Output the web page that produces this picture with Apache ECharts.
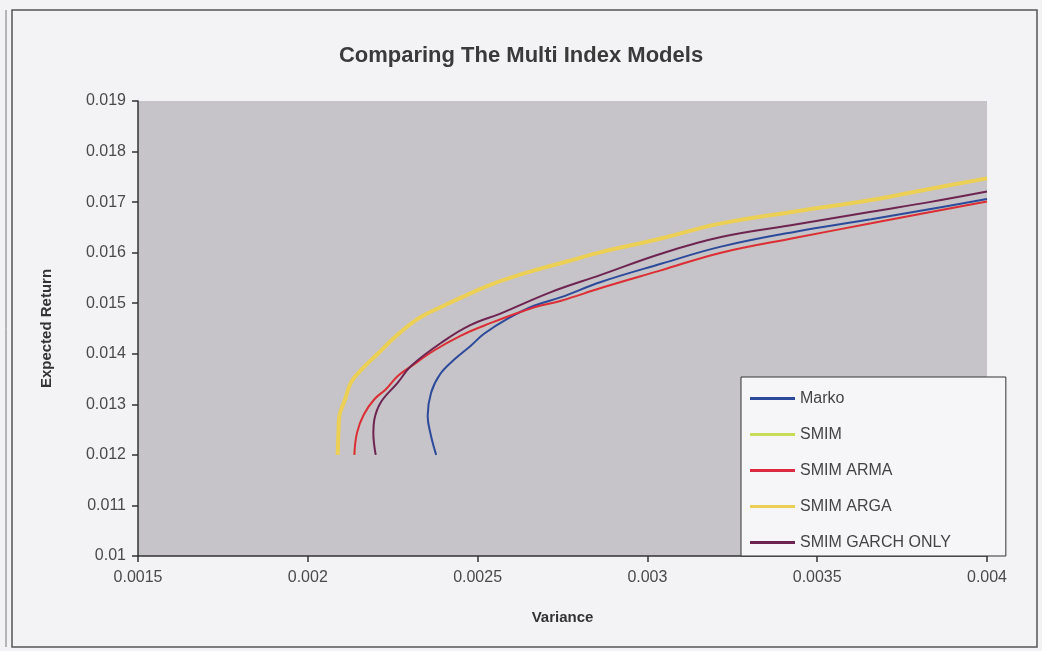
<!DOCTYPE html>
<html>
<head>
<meta charset="utf-8"/>
<title>Comparing The Multi Index Models</title>
<script type="text/javascript" src="https://cdn.jsdelivr.net/npm/echarts@6/dist/echarts.min.js"></script>
<style type="text/css">
	html, body{
		margin: 0;
		padding: 0;
		background: #f3f3f5;
	}
	#frontier{
		width: 1042px;
		height: 651px;
	}
</style>
</head>
<body>
<div id="frontier"></div>
<script type="text/javascript">
	// [variance, expected return]
	var marko = [
		[0.002378, 0.0120], [0.002362, 0.0124], [0.002353, 0.01277], [0.002363, 0.01323],
		[0.002390, 0.0136], [0.002432, 0.01389], [0.002480, 0.01416], [0.002520, 0.01440],
		[0.002590, 0.01470], [0.002666, 0.01495], [0.002746, 0.01512], [0.002863, 0.01542],
		[0.003040, 0.01578], [0.003217, 0.01612], [0.003440, 0.01642], [0.003659, 0.01666],
		[0.003830, 0.01686], [0.004000, 0.01706]
	];
	var smimArma = [
		[0.002137, 0.0120], [0.002145, 0.01244], [0.002165, 0.0128], [0.002196, 0.01310],
		[0.002230, 0.0133], [0.002265, 0.01356], [0.002304, 0.01375], [0.002373, 0.01407],
		[0.002451, 0.01436], [0.002520, 0.01456], [0.002667, 0.01492], [0.002746, 0.01505],
		[0.002863, 0.01530], [0.003040, 0.01565], [0.003217, 0.01600], [0.003440, 0.01630],
		[0.003659, 0.01658], [0.003830, 0.01680], [0.004000, 0.01701]
	];
	// SMIM sits under SMIM ARMA in the picture
	var smim = smimArma;
	var smimArga = [
		[0.002088, 0.0120], [0.002090, 0.0124], [0.002093, 0.01277], [0.002110, 0.0131],
		[0.002127, 0.01343], [0.002160, 0.0137], [0.002206, 0.01400], [0.002260, 0.01435],
		[0.002324, 0.01469], [0.002400, 0.01495], [0.002471, 0.01517], [0.002560, 0.01542],
		[0.002667, 0.01565], [0.002760, 0.01582], [0.002863, 0.01601], [0.003040, 0.01628],
		[0.003217, 0.01658], [0.003440, 0.01682], [0.003659, 0.01704], [0.003830, 0.01726],
		[0.004000, 0.01747]
	];
	var smimGarchOnly = [
		[0.002200, 0.0120], [0.002193, 0.01244], [0.002196, 0.0127], [0.002216, 0.01305],
		[0.002265, 0.01343], [0.002304, 0.01376], [0.002400, 0.01425], [0.002480, 0.01457],
		[0.002569, 0.01480], [0.002716, 0.01522], [0.002863, 0.01556], [0.003040, 0.01598],
		[0.003217, 0.01631], [0.003440, 0.01656], [0.003659, 0.01681], [0.003830, 0.01700],
		[0.004000, 0.01721]
	];
	var seriesNames = ['Marko', 'SMIM', 'SMIM ARMA', 'SMIM ARGA', 'SMIM GARCH ONLY'];
	var seriesData = [marko, smim, smimArma, smimArga, smimGarchOnly];
	var lineColors = ['#2c4a9a', '#c8dc5a', '#dc2a40', '#ecd055', '#6e2450'];
	var lineWidths = [2, 2, 2, 4, 2];

	var series = [];
	seriesData.forEach(function(item, i){
		series.push({
			name: seriesNames[i],
			type: 'line',
			data: item,
			smooth: 0.4,
			symbol: 'none',
			silent: true,
			z: i == 1 ? 1 : 2 + i,
			lineStyle: {
				color: lineColors[i],
				width: lineWidths[i]
			},
			itemStyle: {
				color: lineColors[i]
			}
		});
	});

	var option = {
		backgroundColor: '#f3f3f5',
		animation: false,
		textStyle: {
			fontFamily: '"Liberation Sans", Arial, sans-serif'
		},
		title: {
			text: 'Comparing The Multi Index Models',
			left: 'center',
			top: 40,
			textStyle: {
				fontSize: 22,
				fontWeight: 'bold',
				color: '#3a3a3a'
			}
		},
		grid: {
			left: 138,
			right: 55,
			top: 101,
			bottom: 95,
			show: true,
			backgroundColor: '#c6c3c9',
			borderWidth: 0
		},
		legend: {
			orient: 'vertical',
			left: 741,
			top: 377,
			data: seriesNames,
			icon: 'rect',
			backgroundColor: '#f6f6f8',
			borderColor: '#333333',
			borderWidth: 1,
			borderRadius: 0,
			padding: [13, 55, 5, 9],
			itemWidth: 45,
			itemHeight: 3,
			itemGap: 19,
			textStyle: {
				fontSize: 16,
				lineHeight: 17,
				color: '#444444'
			}
		},
		xAxis: {
			type: 'value',
			min: 0.0015,
			max: 0.004,
			interval: 0.0005,
			name: 'Variance',
			nameLocation: 'middle',
			nameGap: 54,
			nameTextStyle: {
				fontSize: 15,
				fontWeight: 'bold',
				color: '#333333'
			},
			axisLine: {lineStyle: {color: '#333333', width: 1.5}},
			axisTick: {show: true, length: 6, lineStyle: {color: '#333333', width: 1.5}},
			axisLabel: {fontSize: 16, color: '#4a4a4a', margin: 14},
			splitLine: {show: false}
		},
		yAxis: {
			type: 'value',
			min: 0.01,
			max: 0.019,
			interval: 0.001,
			name: 'Expected Return',
			nameLocation: 'middle',
			nameGap: 84,
			nameTextStyle: {
				fontSize: 15,
				fontWeight: 'bold',
				color: '#333333'
			},
			axisLine: {show: true, lineStyle: {color: '#333333', width: 1.5}},
			axisTick: {show: true, length: 6, lineStyle: {color: '#333333', width: 1.5}},
			axisLabel: {fontSize: 16, color: '#4a4a4a', margin: 12},
			splitLine: {show: false}
		},
		graphic: [
			{
				type: 'rect',
				silent: true,
				shape: {x: 12, y: 10, width: 1025, height: 637},
				style: {fill: 'none', stroke: '#555555', lineWidth: 1.5}
			},
			{
				type: 'line',
				silent: true,
				shape: {x1: 6, y1: 10, x2: 6, y2: 647},
				style: {stroke: '#777777', lineWidth: 1}
			}
		],
		series: series
	};

	var chart = echarts.init(document.getElementById('frontier'));
	chart.setOption(option);
</script>
</body>
</html>
